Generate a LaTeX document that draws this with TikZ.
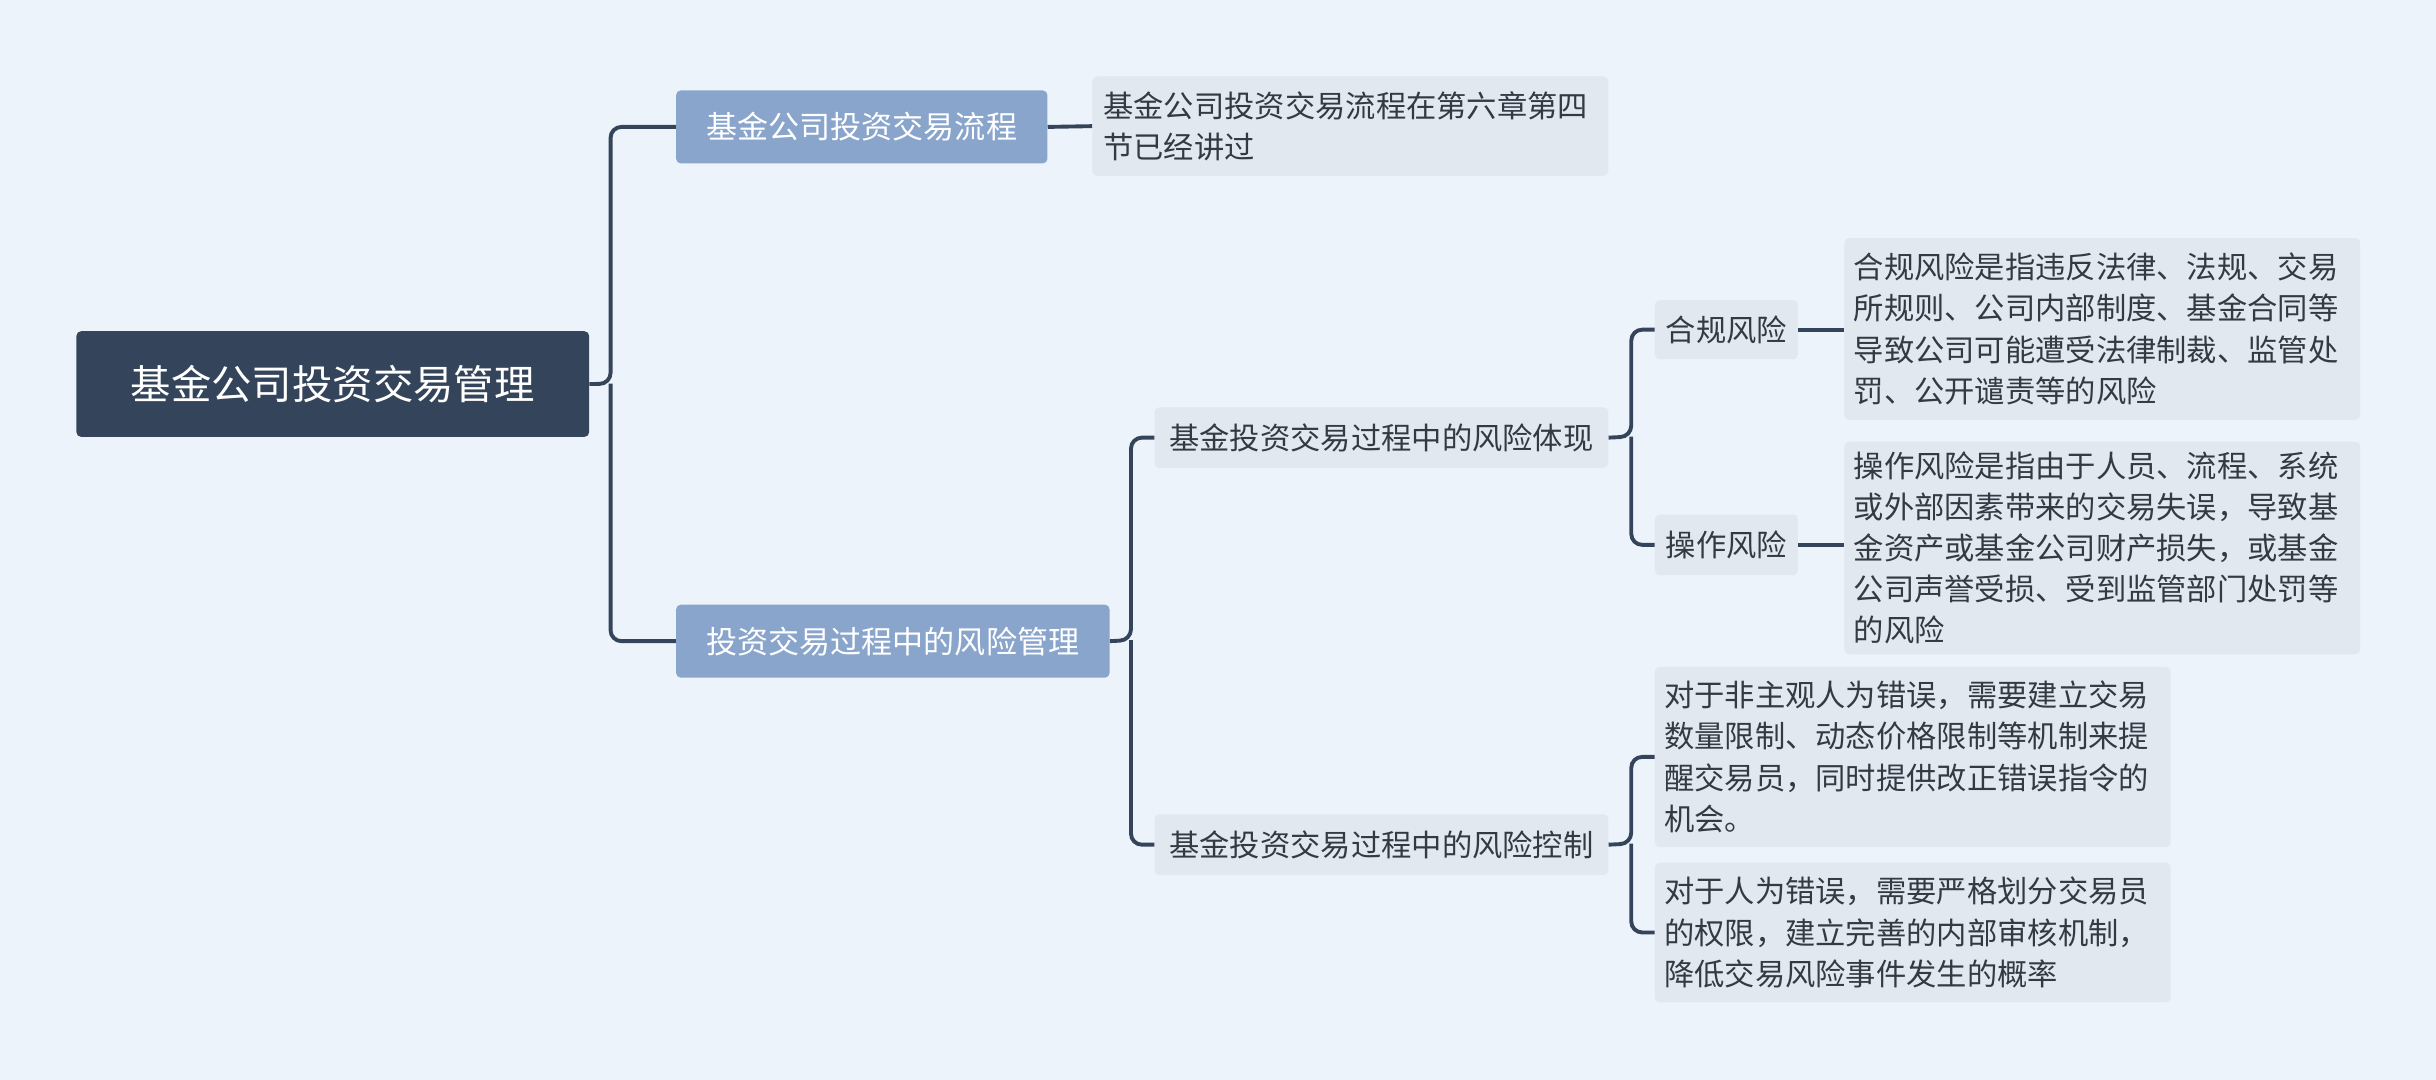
\documentclass[tikz,border=0pt]{standalone}
\usepackage{fontspec}
\setmainfont{Noto Sans CJK SC}
\definecolor{bg}{HTML}{EDF3FA}
\definecolor{dark}{HTML}{34445B}
\definecolor{mid}{HTML}{89A5CC}
\definecolor{leaf}{HTML}{E1E8F0}
\definecolor{txt}{HTML}{333A44}
\begin{document}
\begin{tikzpicture}[x=1pt,y=-1pt,
  box/.style={rounded corners=3pt,inner sep=0pt,anchor=north west,align=left},
  midbox/.style={box,fill=mid,text=white,font=\fontsize{20}{26}\selectfont},
  leafbox/.style={box,fill=leaf,text=txt,font=\fontsize{19.5}{26.5}\selectfont},
  conn/.style={draw=dark,line width=2.5pt,rounded corners=7pt}]
\fill[bg] (0,0) rectangle (1568,695);
\useasboundingbox (0,0) rectangle (1568,695);
% boxes
\node[box,fill=dark,text=white,font=\fontsize{26}{32}\selectfont,minimum width=330,minimum height=68,align=center] (root) at (49,213) {基金公司投资交易管理};
\node[midbox,minimum width=239,minimum height=47,align=center] (a1) at (435,58) {基金公司投资交易流程};
\node[leafbox,minimum width=332,minimum height=64,text width=318,align=left,inner xsep=7pt] (a1l) at (703,49) {基金公司投资交易流程在第六章第四\\节已经讲过};
\node[midbox,minimum width=279,minimum height=47,align=center] (a2) at (435,389) {投资交易过程中的风险管理};
\node[leafbox,minimum width=292,minimum height=39,align=center] (b1) at (743,262) {基金投资交易过程中的风险体现};
\node[leafbox,minimum width=292,minimum height=39,align=center] (b2) at (743,524) {基金投资交易过程中的风险控制};
\node[leafbox,minimum width=92,minimum height=38,align=center] (c1) at (1065,193) {合规风险};
\node[leafbox,minimum width=92,minimum height=39,align=center] (c2) at (1065,331) {操作风险};
\node[leafbox,minimum width=332,minimum height=117,text width=320,inner xsep=6pt] (c1l) at (1187,153) {合规风险是指违反法律、法规、交易\\所规则、公司内部制度、基金合同等\\导致公司可能遭受法律制裁、监管处\\罚、公开谴责等的风险};
\node[leafbox,minimum width=332,minimum height=137,text width=320,inner xsep=6pt] (c2l) at (1187,284) {操作风险是指由于人员、流程、系统\\或外部因素带来的交易失误，导致基\\金资产或基金公司财产损失，或基金\\公司声誉受损、受到监管部门处罚等\\的风险};
\node[leafbox,minimum width=332,minimum height=116,text width=320,inner xsep=6pt] (d1) at (1065,429) {对于非主观人为错误，需要建立交易\\数量限制、动态价格限制等机制来提\\醒交易员，同时提供改正错误指令的\\机会。};
\node[leafbox,minimum width=332,minimum height=90,text width=320,inner xsep=6pt] (d2) at (1065,555) {对于人为错误，需要严格划分交易员\\的权限，建立完善的内部审核机制，\\降低交易风险事件发生的概率};
% connectors
\draw[conn] (root.east) -- (393,247) |- (a1.west);
\draw[conn] (393,247) |- (a2.west);
\draw[conn] (a1.east) -- (a1l.west);
\draw[conn] (a2.east) -- (728,412) |- (b1.west);
\draw[conn] (728,412) |- (b2.west);
\draw[conn] (b1.east) -- (1050,281) |- (c1.west);
\draw[conn] (1050,281) |- (c2.west);
\draw[conn] (c1.east) -- (c1l.west|-c1.east);
\draw[conn] (c2.east) -- (c2l.west|-c2.east);
\draw[conn] (b2.east) -- (1050,543) |- (d1.west);
\draw[conn] (1050,543) |- (d2.west);
\end{tikzpicture}
\end{document}
